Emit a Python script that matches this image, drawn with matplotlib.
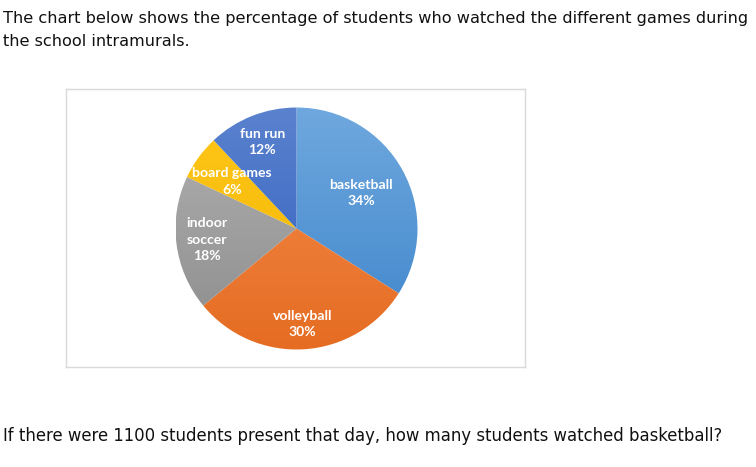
import numpy as np
import matplotlib.pyplot as plt
from matplotlib.colors import LinearSegmentedColormap

# --- data ---
games = ["basketball", "volleyball", "indoor\nsoccer", "board games", "fun run"]
percents = [34, 30, 18, 6, 12]
top_colors = ["#6FA8DE", "#F58D4E", "#B2B2B2", "#FFC61A", "#5A82CE"]
bottom_colors = ["#3E85CB", "#E56C22", "#8C8C8C", "#F2B600", "#2E5DBD"]
# label distance as a fraction of the radius (chart placed them by hand)
label_dist = [0.61, 0.79, 0.75, 0.66, 0.77]

question_lines = ["The chart below shows the percentage of students who watched the different games during",
                  "the school intramurals."]
question_bottom = "If there were 1100 students present that day, how many students watched basketball?"

W, H = 756, 467
fig = plt.figure(figsize=(W / 100, H / 100), dpi=100)

# --- texts (baselines in pixels from top) ---
for line, base in zip(question_lines, [23, 45.5]):
    fig.text(3 / W, 1 - base / H, line, ha="left", va="baseline", fontsize=11.65,
             family="DejaVu Sans", color="#111111")
fig.text(3 / W, 1 - 441 / H, question_bottom, ha="left", va="baseline", fontsize=11.9,
         family="DejaVu Sans", color="#111111")

# --- chart box ---
bx0, bx1, by0, by1 = 66, 525, 89, 367
ax = fig.add_axes([bx0 / W, 1 - by1 / H, (bx1 - bx0) / W, (by1 - by0) / H])
ax.set_xlim(0, bx1 - bx0)
ax.set_ylim(0, by1 - by0)
ax.set_xticks([])
ax.set_yticks([])
for s in ax.spines.values():
    s.set_color("#D9D9D9")
    s.set_linewidth(1.0)

cx, cy, r = 296.5 - bx0, by1 - 228.5, 121

wedges, _ = ax.pie(percents, startangle=90, counterclock=False, center=(cx, cy),
                   radius=r, colors=top_colors, frame=True,
                   wedgeprops=dict(linewidth=0))
ax.set_xlim(0, bx1 - bx0)
ax.set_ylim(0, by1 - by0)
ax.set_aspect("equal")

# vertical gradient fill per wedge (light at top, darker at bottom)
grad = np.linspace(0, 1, 256).reshape(-1, 1)
for w, c0, c1 in zip(wedges, top_colors, bottom_colors):
    cmap = LinearSegmentedColormap.from_list("g", [c1, c0])
    im = ax.imshow(grad, cmap=cmap, origin="lower", aspect="auto",
                   extent=[cx - r, cx + r, cy - r, cy + r], zorder=w.get_zorder())
    im.set_clip_path(w)
    w.set_alpha(0)

# labels
for w, name, p, d in zip(wedges, games, percents, label_dist):
    ang = np.deg2rad((w.theta1 + w.theta2) / 2)
    x = cx + d * r * np.cos(ang)
    y = cy + d * r * np.sin(ang)
    ax.text(x, y, f"{name}\n{p}%", ha="center", va="center", color="white",
            fontsize=10.1, family="Lato", fontweight="bold", linespacing=1.45, zorder=5)

fig.savefig("out.png", dpi=100)
